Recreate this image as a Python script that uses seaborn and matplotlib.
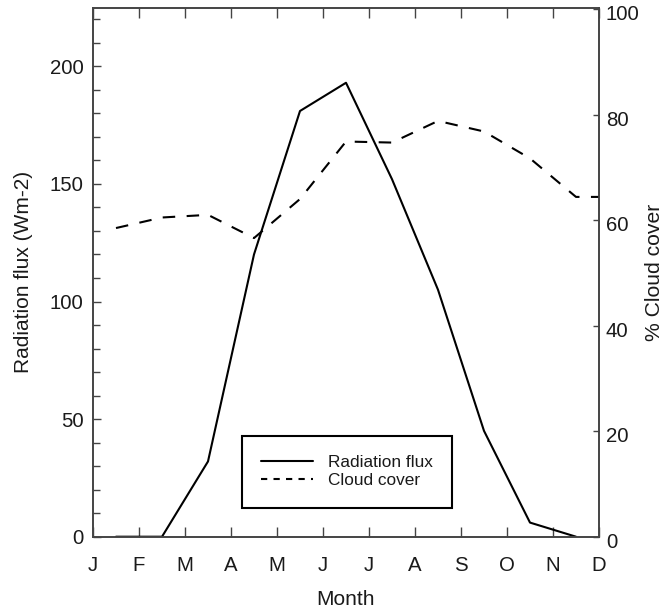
import matplotlib
matplotlib.use("Agg")
import matplotlib.pyplot as plt
from matplotlib.lines import Line2D
from matplotlib.transforms import ScaledTranslation
import numpy as np
import pandas as pd
import seaborn as sns

# Month tick labels (ticks sit at the start of each month, J .. D)
month_labels = ["J", "F", "M", "A", "M", "J", "J", "A", "S", "O", "N", "D"]

# Mid-month positions of the monthly means
month_mid = [0.5, 1.5, 2.5, 3.5, 4.5, 5.5, 6.5, 7.5, 8.5, 9.5, 10.5]

# Mean radiation flux (W m-2)
radiation = [0, 0, 32, 120, 181, 193, 152, 105, 45, 6, 0]

# Mean cloud cover (%), last value carried to the end of the year
cloud_pos = [0.5, 1.5, 2.5, 3.5, 4.5, 5.5, 6.5, 7.5, 8.5, 9.5, 10.5, 11.0]
cloud = [58.5, 60.5, 61.0, 56.6, 64.0, 74.9, 74.7, 78.8, 76.8, 71.7, 64.4, 64.4]

rad_df = pd.DataFrame({"month": month_mid, "flux": radiation})
cloud_df = pd.DataFrame({"month": cloud_pos, "cover": cloud})

sns.set_theme(style="white")
plt.rcParams["font.family"] = ["Liberation Sans", "DejaVu Sans"]
plt.rcParams["text.color"] = "#1a1a1a"
plt.rcParams["axes.labelcolor"] = "#1a1a1a"
plt.rcParams["xtick.color"] = "#444444"
plt.rcParams["ytick.color"] = "#444444"
plt.rcParams["xtick.labelcolor"] = "#1a1a1a"
plt.rcParams["ytick.labelcolor"] = "#1a1a1a"

fig = plt.figure(figsize=(6.66, 6.09), dpi=100)
ax = fig.add_axes([93 / 666, 1 - 536.7 / 609, 506 / 666, 529.2 / 609])
ax2 = ax.twinx()

sns.lineplot(data=rad_df, x="month", y="flux", ax=ax, color="black",
             linewidth=1.5, legend=False)
sns.lineplot(data=cloud_df, x="month", y="cover", ax=ax2, color="black",
             linewidth=1.5, linestyle=(0, (6.0, 5.5)), legend=False)

ax.set_xlim(0, 11)
ax.set_ylim(0, 225)
ax2.set_ylim(0, 100.3)

ax.set_xticks(range(len(month_labels)))
ax.set_xticklabels(month_labels)
ax.set_yticks([0, 50, 100, 150, 200])
ax.set_yticks(np.arange(0, 226, 10), minor=True)
ax2.set_yticks([0, 20, 40, 60, 80, 100])

for a in (ax, ax2):
    for s in a.spines.values():
        s.set_color("#444444")
        s.set_linewidth(1.2)

ax.tick_params(axis="x", which="major", direction="in", length=7.2, width=1.0,
               top=True, bottom=True, labelsize=14.7, pad=14)
ax.tick_params(axis="y", which="major", direction="in", length=5.5, width=1.0,
               left=True, right=False, labelsize=14.7, pad=7)
ax.tick_params(axis="y", which="minor", direction="in", length=5.0, width=1.0,
               left=True, right=False)
ax2.tick_params(axis="y", which="major", direction="in", length=4.0, width=1.0,
                right=True, left=False, labelsize=14.7, pad=5)
ax2.tick_params(axis="x", which="both", top=False, bottom=False)

# right-hand tick labels sit slightly below their ticks
shift_down = ScaledTranslation(0, -3.5 / 100, fig.dpi_scale_trans)
for lab in ax2.get_yticklabels():
    lab.set_transform(lab.get_transform() + shift_down)

ax.set_xlabel("Month", fontsize=15, labelpad=11)
ax.set_ylabel("Radiation flux (Wm-2)", fontsize=15, labelpad=12)
ax2.set_ylabel("% Cloud cover", fontsize=15.2, labelpad=4)

handles = [
    Line2D([], [], color="black", linewidth=1.5, linestyle="-"),
    Line2D([], [], color="black", linewidth=1.5, linestyle=(0, (3, 3))),
]
leg = ax.legend(handles, ["Radiation flux", "Cloud cover"],
                loc="lower left", bbox_to_anchor=(0.294, 0.0548),
                borderaxespad=0.0,
                fontsize=12.4, frameon=True, fancybox=False, shadow=False,
                framealpha=1.0, edgecolor="black", borderpad=1.12,
                handlelength=3.0, handletextpad=0.9, labelspacing=0.18)
leg.get_frame().set_linewidth(1.5)
leg.set_zorder(5)

fig.savefig("out.png", dpi=100)
